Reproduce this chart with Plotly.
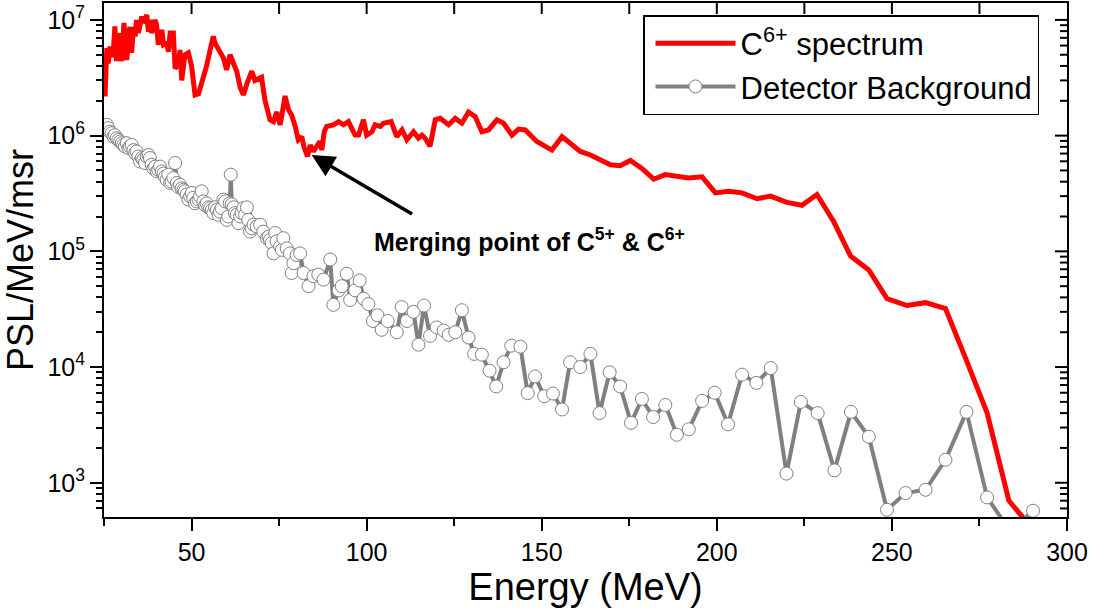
import numpy as np
import plotly.graph_objects as go

# C6+ ion spectrum (energy in MeV, signal in PSL/MeV/msr)
c6_energy = [25.3, 25.8, 26.2, 26.7, 27.2, 27.7, 28.1, 28.6, 29.1, 29.6, 30.0, 30.7, 31.5, 32.0,
             32.4, 32.9, 33.4, 33.9, 34.3, 34.8, 35.8, 36.2, 37.2, 37.7, 38.1, 38.6, 39.1, 39.6,
             40.0, 40.5, 41.5, 42.0, 42.9, 43.4, 43.9, 44.8, 45.3, 46.2, 46.7, 47.2, 48.1, 49.1,
             50.0, 51.0, 52.0, 52.9, 54.3, 55.3, 56.2, 56.7, 57.2, 58.1, 59.1, 60.0, 61.0, 62.0,
             62.9, 63.9, 64.8, 65.8, 67.2, 68.1, 69.1, 70.0, 70.5, 71.0, 72.4, 73.4, 74.3, 75.3,
             75.8, 76.7, 77.7, 78.6, 79.6, 80.5, 81.5, 82.1, 83.1, 83.9, 84.8, 85.8, 86.7, 87.2,
             87.9, 88.6, 90.5, 92.0, 93.4, 94.8, 95.8, 96.7, 97.7, 99.1, 100.0, 101.5, 102.4,
             103.9, 104.8, 107.0, 108.6, 110.1, 111.5, 113.4, 114.8, 115.8, 116.7, 118.1, 119.6,
             121.0, 123.4, 125.3, 127.2, 129.1, 131.0, 132.9, 134.8, 137.2, 139.1, 141.5, 143.4,
             145.3, 148.6, 151.0, 152.9, 155.8, 158.6, 161.0, 163.9, 166.7, 169.6, 172.4, 175.3,
             178.6, 182.0, 185.3, 188.6, 191.9, 195.8, 199.6, 203.4, 207.2, 211.5, 215.3, 220.0,
             224.3, 228.6, 233.4, 238.2, 243.4, 248.6, 254.3, 259.6, 265.3, 271.0, 277.2, 283.4,
             289.0]
c6_psl = [2.18e6, 5.7e6, 4.2e6, 5.9e6, 4.8e6, 5.5e6, 8.8e6, 4.4e6, 7.7e6, 5.9e6, 4.4e6, 9.4e6,
          4.5e6, 7.2e6, 8.7e6, 5.2e6, 8.7e6, 7.2e6, 1.0e7, 7.7e6, 1.07e7, 9.4e6, 1.1e7, 7.9e6,
          1.0e7, 7.7e6, 9.4e6, 1.0e7, 9.1e6, 6.1e6, 8.2e6, 6.1e6, 6.3e6, 5.3e6, 7.7e6, 7.7e6,
          3.8e6, 4.1e6, 5.5e6, 3.0e6, 5.0e6, 5.2e6, 4.0e6, 2.25e6, 2.3e6, 2.8e6, 4.0e6, 5.5e6,
          7.2e6, 6.3e6, 5.9e6, 5.3e6, 4.7e6, 3.7e6, 5.0e6, 4.2e6, 3.6e6, 2.6e6, 2.25e6, 2.8e6,
          3.6e6, 3.0e6, 3.1e6, 3.2e6, 2.5e6, 2.0e6, 1.37e6, 1.32e6, 1.6e6, 1.24e6, 1.5e6, 2.2e6,
          1.67e6, 1.5e6, 1.2e6, 9.2e5, 9.8e5, 8.0e5, 6.6e5, 8.3e5, 7.3e5, 8.0e5, 8.9e5, 7.5e5,
          1.08e6, 1.2e6, 1.24e6, 1.32e6, 1.24e6, 1.32e6, 1.16e6, 1.01e6, 1.01e6, 1.37e6, 1.01e6,
          1.08e6, 1.24e6, 1.2e6, 1.28e6, 1.32e6, 9.8e5, 1.12e6, 9.2e5, 1.08e6, 9.5e5, 1.01e6,
          9.5e5, 8.1e5, 1.37e6, 1.41e6, 1.24e6, 1.41e6, 1.28e6, 1.6e6, 1.46e6, 1.08e6, 1.12e6,
          1.37e6, 1.28e6, 1.01e6, 1.14e6, 1.12e6, 8.9e5, 8.05e5, 7.5e5, 9.8e5, 8.3e5, 7.3e5,
          6.8e5, 6.2e5, 5.6e5, 5.5e5, 6.1e5, 5.2e5, 4.2e5, 4.6e5, 4.4e5, 4.3e5, 4.4e5, 3.2e5,
          3.3e5, 3.2e5, 2.85e5, 3.0e5, 2.65e5, 2.5e5, 3.1e5, 1.8e5, 9.1e4, 6.9e4, 3.9e4, 3.4e4,
          3.6e4, 3.2e4, 1.2e4, 4.0e3, 700, 440]

# Detector background
bg_energy = [25.8, 26.2, 26.7, 27.2, 27.7, 28.1, 28.6, 29.1, 29.6, 30.1, 30.5, 31.0, 31.5, 32.0,
             32.4, 32.9, 33.4, 33.9, 34.3, 34.8, 35.3, 35.8, 36.2, 36.7, 37.2, 37.7, 38.1, 38.6,
             39.1, 39.6, 40.1, 40.5, 41.0, 41.5, 42.0, 42.4, 42.9, 43.4, 43.9, 44.3, 44.8, 45.3,
             45.8, 46.2, 46.7, 47.2, 47.7, 48.1, 48.6, 49.1, 49.6, 50.1, 50.5, 51.0, 51.5, 52.0,
             52.4, 52.9, 53.4, 53.9, 54.3, 54.8, 55.3, 55.8, 56.2, 56.7, 57.2, 57.7, 58.1, 58.6,
             59.1, 59.6, 60.1, 60.5, 60.9, 61.2, 61.5, 62.0, 62.4, 62.9, 63.4, 63.9, 64.3, 64.8,
             65.3, 65.8, 66.2, 66.7, 67.2, 67.7, 68.6, 69.6, 70.5, 71.5, 72.0, 72.4, 72.9, 73.4,
             73.9, 74.3, 75.3, 75.8, 76.2, 77.2, 78.1, 78.6, 79.1, 80.0, 81.0, 82.0, 83.4, 84.8,
             86.2, 87.7, 89.6, 90.5, 92.0, 92.9, 94.3, 95.3, 96.7, 98.0, 99.1, 100.5, 101.8,
             103.1, 104.3, 106.0, 108.6, 110.0, 111.5, 113.4, 114.8, 116.4, 118.1, 120.0, 122.0,
             123.4, 125.3, 127.2, 129.1, 130.7, 132.9, 135.1, 137.0, 139.1, 141.3, 143.9, 146.0,
             148.1, 150.7, 153.2, 155.8, 158.1, 161.0, 163.9, 166.5, 169.4, 172.4, 175.5, 178.6,
             181.8, 185.3, 188.6, 192.0, 195.8, 199.4, 203.2, 207.2, 211.3, 215.4, 219.9, 224.0,
             228.8, 233.6, 238.3, 243.4, 248.6, 253.9, 259.6, 265.3, 271.3, 277.2, 283.8, 290.3]
bg_psl = [1.24e6, 1.16e6, 1.08e6, 1.05e6, 9.8e5, 1.01e6, 9.5e5, 9.2e5, 8.9e5, 8.6e5, 8.3e5,
          8.05e5, 8.6e5, 7.8e5, 8.05e5, 8.3e5, 7.5e5, 7.05e5, 7.3e5, 6.6e5, 5.97e5, 6.4e5, 6.2e5,
          5.8e5, 6.6e5, 6.8e5, 6.4e5, 5.6e5, 5.2e5, 5.4e5, 4.9e5, 5.06e5, 5.4e5, 4.9e5, 4.7e5,
          4.4e5, 4.15e5, 4.6e5, 3.9e5, 4.0e5, 4.3e5, 5.8e5, 3.9e5, 3.6e5, 3.76e5, 3.5e5, 3.4e5,
          3.3e5, 3.1e5, 2.8e5, 2.98e5, 3.2e5, 2.9e5, 2.6e5, 2.7e5, 2.8e5, 2.98e5, 3.3e5, 2.7e5,
          2.5e5, 2.6e5, 2.4e5, 2.36e5, 2.28e5, 2.14e5, 2.4e5, 2.28e5, 2.07e5, 2.2e5, 2.36e5,
          2.8e5, 2.7e5, 1.87e5, 2.0e5, 2.6e5, 4.6e5, 2.55e5, 2.4e5, 2.14e5, 2.07e5, 1.75e5,
          2.0e5, 2.14e5, 2.36e5, 2.07e5, 2.4e5, 1.87e5, 1.48e5, 1.58e5, 1.7e5, 1.64e5, 1.7e5,
          1.48e5, 1.3e5, 1.34e5, 1.26e5, 1.18e5, 9.6e4, 1.44e5, 1.22e5, 1.1e5, 1.03e5, 1.3e5,
          1.06e5, 9.6e4, 6.5e4, 7.9e4, 9.3e4, 9.6e4, 6.5e4, 5.0e4, 6.1e4, 6.3e4, 5.7e4, 8.5e4,
          3.45e4, 4.6e4, 5.0e4, 6.4e4, 3.8e4, 4.6e4, 5.6e4, 3.9e4, 3.5e4, 2.5e4, 2.8e4, 2.1e4,
          2.5e4, 2.0e4, 3.3e4, 2.5e4, 3.0e4, 1.56e4, 3.4e4, 1.86e4, 2.2e4, 2.07e4, 1.9e4, 2.0e4,
          3.1e4, 1.8e4, 1.3e4, 1.28e4, 9.3e3, 6.8e3, 1.1e4, 1.53e4, 1.5e4, 5.95e3, 8.3e3, 5.6e3,
          5.9e3, 4.3e3, 1.1e4, 1.0e4, 1.3e4, 4.0e3, 9.0e3, 6.8e3, 3.3e3, 5.3e3, 3.7e3, 4.7e3,
          2.6e3, 2.9e3, 5.1e3, 6.0e3, 3.2e3, 8.6e3, 7.3e3, 9.8e3, 1.2e3, 5.0e3, 4.0e3, 1.28e3,
          4.1e3, 2.5e3, 585, 815, 870, 1.58e3, 4.1e3, 747, 380, 573]

# Axis settings
x_range = [25, 300]
y_range = [506, 1.4e7]
x_major = [50, 100, 150, 200, 250, 300]
x_top = [50, 75, 100, 125, 150, 175, 200, 225, 250, 275]
y_major = [1e3, 1e4, 1e5, 1e6, 1e7]
y_major_text = ["10<sup>3</sup>", "10<sup>4</sup>", "10<sup>5</sup>",
                "10<sup>6</sup>", "10<sup>7</sup>"]
y_minor = [k * 10.0 ** n for n in range(2, 8) for k in range(2, 10)
           if y_range[0] <= k * 10.0 ** n <= y_range[1]]

# Arrow pointing at the merging point, and its label
arrow_tip = (84.3, 6.8e5)
arrow_tail = (113.4, 2.07e5)
label_pos = (101.6, 1.26e5)

FONT = "Liberation Sans, Arial, Helvetica, sans-serif"
W, H = 1119, 614
M = dict(l=104, r=52, t=3, b=97)
plot_w = W - M["l"] - M["r"]
plot_h = H - M["t"] - M["b"]
y_log_range = [float(np.log10(v)) for v in y_range]


def y_frac(v):
    lo, hi = y_log_range
    return (np.log10(v) - lo) / (hi - lo)


fig = go.Figure()
fig.add_trace(go.Scatter(
    x=c6_energy, y=c6_psl, mode="lines", name="C<sup>6+</sup> spectrum",
    line=dict(color="#ff0000", width=5),
))
fig.add_trace(go.Scatter(
    x=bg_energy, y=bg_psl, mode="lines+markers", name="Detector Background",
    line=dict(color="#808080", width=4),
    marker=dict(symbol="circle", size=13, color="white",
                line=dict(color="#808080", width=1)),
))

# inward-pointing ticks along the top and right frame
tick_shapes = []
for v in x_top:
    tick_shapes.append(dict(type="line", xref="x", yref="paper", x0=v, x1=v,
                            y0=1, y1=1 - 11 / plot_h,
                            line=dict(color="black", width=2), layer="above"))
for v in y_major:
    f = float(y_frac(v))
    tick_shapes.append(dict(type="line", xref="paper", yref="paper", x0=1,
                            x1=1 - 12 / plot_w, y0=f, y1=f,
                            line=dict(color="black", width=2), layer="above"))
for v in y_minor:
    f = float(y_frac(v))
    tick_shapes.append(dict(type="line", xref="paper", yref="paper", x0=1,
                            x1=1 - 7 / plot_w, y0=f, y1=f,
                            line=dict(color="black", width=2), layer="above"))

fig.update_layout(
    width=W, height=H,
    margin=dict(**M, autoexpand=False),
    paper_bgcolor="white", plot_bgcolor="white",
    font=dict(family=FONT, color="black"),
    showlegend=True,
    legend=dict(
        x=(643 - 104) / plot_w, y=(517 - 15) / plot_h, xanchor="left", yanchor="top",
        bgcolor="white", bordercolor="black", borderwidth=1.5,
        font=dict(family=FONT, size=31, color="black"),
        tracegroupgap=0, itemwidth=80, indentation=6,
    ),
    xaxis=dict(
        range=x_range, tickmode="array", tickvals=x_major, automargin=False,
        ticks="outside", ticklen=12, tickwidth=2, tickcolor="black",
        showline=True, linewidth=2, linecolor="black", mirror=True,
        showgrid=False, zeroline=False,
        tickfont=dict(family=FONT, size=25),
        title=dict(text="Energy (MeV)", font=dict(family=FONT, size=38), standoff=8),
        minor=dict(dtick=25, tick0=0, ticks="outside",
                   ticklen=7, tickwidth=2, tickcolor="black"),
    ),
    yaxis=dict(
        type="log", range=y_log_range, automargin=False,
        tickmode="array", tickvals=y_major, ticktext=y_major_text,
        ticks="outside", ticklen=12, tickwidth=2, tickcolor="black",
        showline=True, linewidth=2, linecolor="black", mirror=True,
        showgrid=False, zeroline=False,
        tickfont=dict(family=FONT, size=25),
        title=dict(text="PSL/MeV/msr", font=dict(family=FONT, size=36), standoff=6),
        minor=dict(tickmode="array", tickvals=y_minor, ticks="outside",
                   ticklen=6, tickwidth=2, tickcolor="black"),
    ),
    shapes=tick_shapes,
)

fig.add_annotation(
    x=arrow_tip[0], y=float(np.log10(arrow_tip[1])),
    ax=arrow_tail[0], ay=float(np.log10(arrow_tail[1])),
    xref="x", yref="y", axref="x", ayref="y",
    text="", showarrow=True, arrowhead=2, arrowsize=1.3, arrowwidth=3.5,
    arrowcolor="black", standoff=0,
)
fig.add_annotation(
    x=label_pos[0], y=float(np.log10(label_pos[1])), xref="x", yref="y",
    xanchor="left", yanchor="middle", showarrow=False,
    text="<b>Merging point of C<sup>5+</sup> &amp; C<sup>6+</sup></b>",
    font=dict(family=FONT, size=25, color="black"),
)

fig.write_html("out.html")
